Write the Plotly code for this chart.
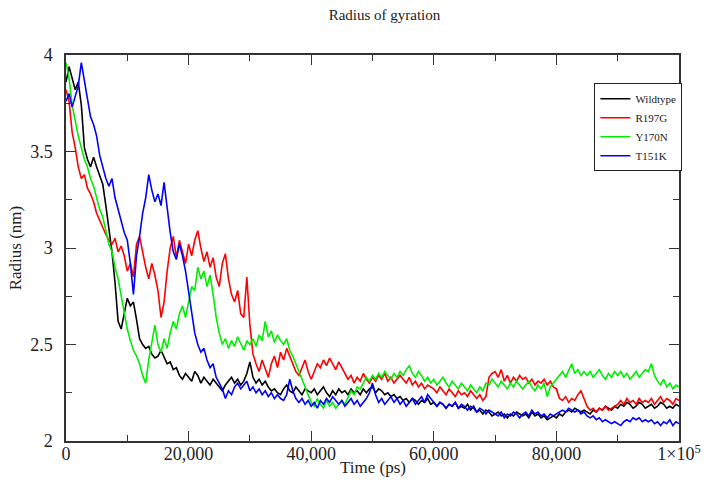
import plotly.graph_objects as go

# time axis: one sample every 500 ps, 0..100000 ps
step_ps = 500
n_points = 201
time_ps = [i * step_ps for i in range(n_points)]

series_names = ["Wildtype", "R197G", "Y170N", "T151K"]
series_colors = ["#000000", "#ff0000", "#00ee00", "#0000ff"]

wildtype = [
    3.86, 3.94, 3.88, 3.82, 3.86, 3.74, 3.52, 3.46, 3.42, 3.47,
    3.42, 3.38, 3.33, 3.22, 3.10, 2.98, 2.82, 2.62, 2.58, 2.66,
    2.74, 2.70, 2.72, 2.63, 2.53, 2.50, 2.48, 2.49, 2.45, 2.43,
    2.44, 2.47, 2.43, 2.40, 2.41, 2.37, 2.38, 2.34, 2.32, 2.35,
    2.33, 2.31, 2.36, 2.34, 2.30, 2.33, 2.31, 2.29, 2.32, 2.30,
    2.28, 2.26, 2.29, 2.31, 2.33, 2.30, 2.32, 2.29, 2.31, 2.35,
    2.41, 2.33, 2.30, 2.32, 2.29, 2.31, 2.28, 2.26, 2.27, 2.25,
    2.24, 2.27, 2.29, 2.26, 2.25, 2.28, 2.26, 2.24, 2.27, 2.26,
    2.25, 2.27, 2.24, 2.26, 2.28, 2.25, 2.23, 2.26, 2.24, 2.27,
    2.25, 2.26, 2.24, 2.27, 2.25, 2.26, 2.24, 2.27, 2.25, 2.27,
    2.28, 2.25, 2.27, 2.26, 2.24, 2.25, 2.23, 2.24, 2.22, 2.23,
    2.21, 2.22, 2.20, 2.22, 2.21, 2.19, 2.21, 2.20, 2.22, 2.19,
    2.20, 2.18, 2.20, 2.19, 2.17, 2.19, 2.18, 2.20, 2.17, 2.18,
    2.17, 2.19, 2.16, 2.18, 2.15, 2.16, 2.14, 2.16, 2.15, 2.13,
    2.14, 2.15, 2.13, 2.14, 2.12, 2.14, 2.13, 2.15, 2.14, 2.13,
    2.14, 2.12, 2.15, 2.13, 2.14, 2.12, 2.13, 2.11, 2.12, 2.13,
    2.12, 2.14, 2.13, 2.15, 2.16, 2.15, 2.17, 2.16, 2.15, 2.16,
    2.15, 2.14, 2.16, 2.15, 2.17, 2.16, 2.18, 2.17, 2.16, 2.18,
    2.17, 2.19, 2.18, 2.20, 2.19, 2.17, 2.18, 2.20, 2.19, 2.17,
    2.18, 2.19, 2.17, 2.18, 2.20, 2.19, 2.17, 2.18, 2.17, 2.19,
    2.18,
]

r197g = [
    3.82, 3.76, 3.60, 3.52, 3.42, 3.36, 3.38, 3.31, 3.28, 3.24,
    3.18, 3.14, 3.10, 3.07, 3.04, 3.02, 3.05, 2.98, 3.01, 2.96,
    2.88, 2.92, 2.85, 3.02, 3.06, 2.98, 2.90, 2.84, 2.92, 2.86,
    2.78, 2.64, 2.72, 2.88, 3.00, 3.06, 2.95, 3.04, 2.98, 2.92,
    3.02, 2.96, 3.04, 3.09, 3.00, 2.93, 2.98, 2.90, 2.95, 2.85,
    2.80, 2.92, 2.97, 2.84, 2.76, 2.72, 2.78, 2.66, 2.64, 2.85,
    2.60, 2.45, 2.40, 2.36, 2.42, 2.38, 2.33, 2.40, 2.44, 2.38,
    2.46, 2.42, 2.48, 2.44, 2.40, 2.36, 2.34, 2.38, 2.42, 2.36,
    2.32, 2.36, 2.40, 2.38, 2.42, 2.39, 2.43, 2.40, 2.37, 2.41,
    2.38, 2.35, 2.32, 2.34, 2.30, 2.33, 2.31, 2.35, 2.32, 2.30,
    2.33, 2.31, 2.34, 2.32, 2.35, 2.31, 2.33, 2.30, 2.32, 2.34,
    2.32, 2.30, 2.33, 2.29, 2.31, 2.28, 2.30, 2.27, 2.29, 2.28,
    2.27, 2.25, 2.28, 2.26, 2.24, 2.27, 2.25, 2.23, 2.26, 2.24,
    2.25, 2.23, 2.26, 2.24, 2.22, 2.24, 2.21, 2.23, 2.33, 2.35,
    2.36, 2.33, 2.37, 2.31, 2.34, 2.30, 2.33, 2.31, 2.34, 2.32,
    2.33, 2.30, 2.32, 2.29, 2.31, 2.30, 2.32, 2.29, 2.31, 2.28,
    2.27, 2.22, 2.21, 2.23, 2.20, 2.22, 2.21, 2.24, 2.26, 2.22,
    2.18, 2.16, 2.17, 2.15, 2.17, 2.16, 2.18, 2.16, 2.17, 2.18,
    2.19, 2.21, 2.19, 2.22, 2.20, 2.21, 2.19, 2.22, 2.20, 2.21,
    2.20, 2.22, 2.19, 2.21, 2.23, 2.20, 2.22, 2.21, 2.19, 2.22,
    2.21,
]

y170n = [
    3.96, 3.88, 3.74, 3.66, 3.58, 3.52, 3.46, 3.42, 3.36, 3.32,
    3.26, 3.20, 3.16, 3.08, 3.02, 2.98, 2.90, 2.84, 2.76, 2.66,
    2.58, 2.52, 2.47, 2.44, 2.40, 2.34, 2.30, 2.42, 2.52, 2.60,
    2.50, 2.46, 2.53, 2.48, 2.56, 2.62, 2.58, 2.66, 2.70, 2.64,
    2.72, 2.80, 2.78, 2.90, 2.84, 2.88, 2.80, 2.86, 2.76, 2.64,
    2.56, 2.50, 2.53, 2.48, 2.52, 2.49, 2.54, 2.50, 2.47, 2.52,
    2.50, 2.53, 2.49, 2.55, 2.52, 2.62, 2.54, 2.57, 2.51, 2.55,
    2.52, 2.50, 2.53, 2.47, 2.44, 2.40, 2.36, 2.32, 2.28, 2.24,
    2.20, 2.18, 2.22, 2.19, 2.17, 2.21, 2.18, 2.20, 2.17, 2.19,
    2.21, 2.19, 2.23, 2.26, 2.24, 2.28, 2.27, 2.30, 2.33, 2.31,
    2.34, 2.32, 2.35, 2.33, 2.36, 2.34, 2.32, 2.35, 2.33, 2.36,
    2.34, 2.37, 2.39, 2.35, 2.33, 2.36, 2.34, 2.31, 2.33, 2.30,
    2.32, 2.29, 2.31, 2.33, 2.30, 2.28, 2.31, 2.29, 2.27, 2.30,
    2.28, 2.26, 2.29, 2.27, 2.25, 2.28, 2.26, 2.30, 2.29, 2.32,
    2.30, 2.28, 2.31, 2.29, 2.27, 2.30, 2.28, 2.31, 2.29, 2.27,
    2.29, 2.31, 2.28, 2.26, 2.29, 2.27, 2.30, 2.23, 2.28, 2.30,
    2.32, 2.34, 2.36, 2.33, 2.37, 2.40, 2.35, 2.37, 2.34, 2.36,
    2.34, 2.36, 2.33, 2.35, 2.37, 2.34, 2.32, 2.35, 2.33, 2.36,
    2.34, 2.36, 2.33, 2.35, 2.32, 2.34, 2.36, 2.33, 2.35, 2.37,
    2.36, 2.40, 2.34, 2.31, 2.29, 2.32, 2.28, 2.30, 2.27, 2.29,
    2.28,
]

t151k = [
    3.76, 3.80, 3.73, 3.78, 3.84, 3.96, 3.86, 3.76, 3.68, 3.64,
    3.58, 3.48, 3.42, 3.36, 3.32, 3.36, 3.26, 3.20, 3.14, 3.08,
    3.04, 2.92, 2.76, 2.96, 3.06, 3.18, 3.26, 3.38, 3.30, 3.24,
    3.28, 3.22, 3.34, 3.20, 3.08, 2.98, 2.94, 3.02, 2.96, 2.88,
    2.78, 2.66, 2.56, 2.50, 2.46, 2.48, 2.42, 2.38, 2.40, 2.33,
    2.30, 2.27, 2.22, 2.26, 2.24, 2.28, 2.30, 2.27, 2.29, 2.31,
    2.26, 2.28, 2.25, 2.27, 2.24, 2.26, 2.23, 2.25, 2.22, 2.24,
    2.22, 2.21, 2.24, 2.32, 2.26, 2.22, 2.20, 2.22, 2.19, 2.21,
    2.18, 2.20, 2.17, 2.21, 2.19, 2.22, 2.20, 2.23, 2.21, 2.19,
    2.21, 2.18, 2.20, 2.22, 2.19, 2.21, 2.18, 2.20, 2.22, 2.25,
    2.30, 2.24, 2.20, 2.22, 2.19, 2.21, 2.23, 2.20, 2.22, 2.19,
    2.21, 2.18, 2.20, 2.22, 2.19, 2.21, 2.23, 2.20, 2.24, 2.22,
    2.20, 2.18, 2.20, 2.19, 2.17, 2.19, 2.18, 2.20, 2.17, 2.19,
    2.18, 2.16, 2.18, 2.17, 2.15, 2.17, 2.16, 2.14, 2.16, 2.15,
    2.14, 2.13, 2.15, 2.12, 2.14, 2.13, 2.15, 2.14, 2.12, 2.14,
    2.15, 2.13, 2.16, 2.14, 2.15, 2.13, 2.14, 2.12, 2.14, 2.13,
    2.14, 2.15, 2.16, 2.15, 2.17, 2.16, 2.15, 2.16, 2.14, 2.15,
    2.13, 2.12, 2.13, 2.11, 2.12, 2.10, 2.11, 2.10, 2.09, 2.10,
    2.09, 2.08, 2.10, 2.11, 2.10, 2.12, 2.11, 2.12, 2.10, 2.11,
    2.10, 2.11, 2.09, 2.10, 2.08, 2.10, 2.09, 2.11, 2.08, 2.10,
    2.09,
]

x_tick_values = [0, 20000, 40000, 60000, 80000, 100000]
x_tick_labels = ["0", "20,000", "40,000", "60,000", "80,000", "1×10<sup>5</sup>"]
y_tick_values = [2, 2.5, 3, 3.5, 4]
y_tick_labels = ["2", "2.5", "3", "3.5", "4"]

all_series = [wildtype, r197g, y170n, t151k]

FONT = "Liberation Serif, Times New Roman, serif"
AXIS_COLOR = "#333333"

fig = go.Figure()
for name, color, values in zip(series_names, series_colors, all_series):
    fig.add_trace(go.Scatter(
        x=time_ps, y=values, mode="lines", name=name,
        line=dict(color=color, width=1.6),
    ))

axis_common = dict(
    showgrid=False, zeroline=False, automargin=False,
    showline=True, linecolor=AXIS_COLOR, linewidth=1.5, mirror="allticks",
    ticks="inside", ticklen=10, tickwidth=1.3, tickcolor=AXIS_COLOR,
    tickfont=dict(family=FONT, size=18, color="#222222"),
)

fig.update_layout(
    width=712, height=487,
    margin=dict(l=66, r=33, t=55, b=46, autoexpand=False),
    paper_bgcolor="white", plot_bgcolor="white",
    font=dict(family=FONT, color="#222222"),
    title=dict(text="Radius of gyration", x=0.54, xanchor="center",
               y=1 - 15 / 487, yanchor="middle",
               font=dict(family=FONT, size=15, color="#222222")),
    xaxis=dict(
        range=[0, 100000], tickvals=x_tick_values, ticktext=x_tick_labels,
        ticklabelstandoff=-4,
        minor=dict(dtick=10000, ticks="inside", ticklen=6, tickwidth=1.3, tickcolor=AXIS_COLOR),
        **axis_common,
    ),
    yaxis=dict(
        range=[2, 4], tickvals=y_tick_values, ticktext=y_tick_labels,
        ticklabelstandoff=8,
        title=dict(text="Radius (nm)", standoff=4, font=dict(family=FONT, size=17)),
        minor=dict(dtick=0.25, ticks="inside", ticklen=6, tickwidth=1.3, tickcolor=AXIS_COLOR),
        **axis_common,
    ),
    annotations=[dict(
        text="Time (ps)", xref="paper", yref="paper", x=0.5, y=(441 - 467) / 386,
        xanchor="center", yanchor="middle", showarrow=False,
        font=dict(family=FONT, size=17, color="#222222"),
    )],
    legend=dict(
        x=0.862, y=0.927, xanchor="left", yanchor="top",
        bgcolor="white", bordercolor="#222222", borderwidth=1,
        font=dict(family=FONT, size=11, color="#222222"),
        itemwidth=30, tracegroupgap=0,
    ),
    showlegend=True,
)

fig.write_html("out.html")
